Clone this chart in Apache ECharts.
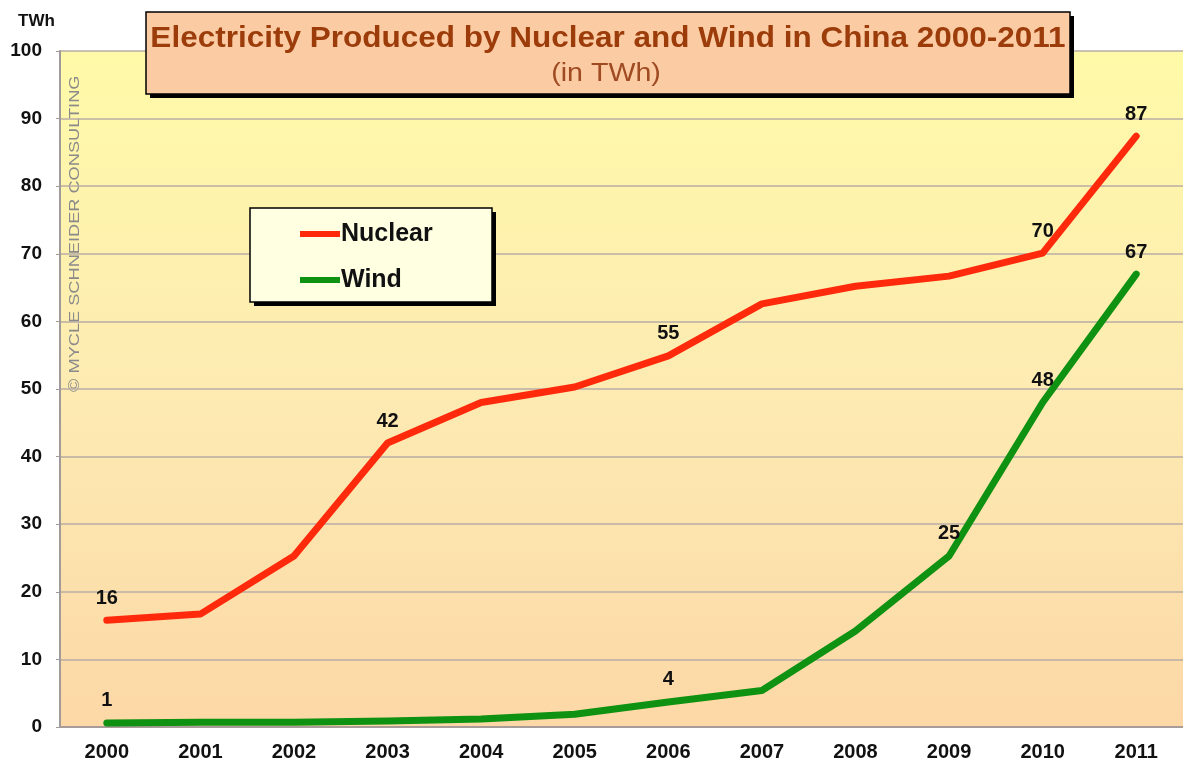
<!DOCTYPE html>
<html>
<head>
<meta charset="utf-8">
<script src="https://cdn.jsdelivr.net/npm/echarts@6/dist/echarts.min.js"></script>
<style>
  html, body { margin: 0; padding: 0; background: #fff; }
  #chart { width: 1183px; height: 767px; }
</style>
</head>
<body>
<div id="chart"></div>
<script>
  // data
  const years = ['2000', '2001', '2002', '2003', '2004', '2005', '2006', '2007', '2008', '2009', '2010', '2011'];
  const nuclear = [15.8, 16.7, 25.3, 42.0, 48.0, 50.3, 54.9, 62.6, 65.2, 66.7, 70.1, 87.4];
  const wind = [0.6, 0.7, 0.7, 0.9, 1.2, 1.9, 3.7, 5.4, 14.2, 25.3, 48.0, 67.0];
  // which points carry a value label
  const nuclearLabelled = [0, 3, 6, 10, 11];
  const windLabelled = [0, 6, 9, 10, 11];
  const yTicks = [0, 10, 20, 30, 40, 50, 60, 70, 80, 90, 100];

  const font = 'Liberation Sans, Arial, sans-serif';

  function withLabels(values, labelled) {
    return values.map(function (v, i) {
      return {
        value: v,
        label: { show: labelled.indexOf(i) >= 0 }
      };
    });
  }

  const chart = echarts.init(document.getElementById('chart'));

  const valueLabel = {
    show: false,
    position: 'top',
    distance: 12,
    color: '#111',
    fontFamily: font,
    fontWeight: 'bold',
    fontSize: 20,
    formatter: function (p) {
      return Math.round(p.value);
    }
  };

  const options = {
    animation: false,
    backgroundColor: '#fff',
    grid: {
      left: 60,
      right: 0,
      top: 51,
      bottom: 40,
      show: true,
      borderWidth: 0,
      backgroundColor: new echarts.graphic.LinearGradient(0, 0, 0, 1, [
        { offset: 0, color: '#fffaa8' },
        { offset: 0.5, color: '#fdebb2' },
        { offset: 1, color: '#fcd8a6' }
      ])
    },
    legend: {
      orient: 'vertical',
      left: 250,
      top: 208,
      padding: [12, 0, 0, 50],
      itemGap: 18,
      itemWidth: 40,
      itemHeight: 6,
      icon: 'rect',
      z: 8,
      textStyle: {
        color: '#111',
        fontFamily: font,
        fontWeight: 'bold',
        fontSize: 25,
        lineHeight: 28,
        padding: [0, 0, 0, -4]
      },
      data: ['Nuclear', 'Wind']
    },
    xAxis: {
      type: 'category',
      data: years,
      boundaryGap: true,
      axisLine: { lineStyle: { color: '#a89c98', width: 2 } },
      axisTick: { show: false },
      axisLabel: {
        margin: 15,
        color: '#111',
        fontFamily: font,
        fontWeight: 'bold',
        fontSize: 20
      }
    },
    yAxis: {
      type: 'value',
      min: yTicks[0],
      max: yTicks[yTicks.length - 1],
      interval: 10,
      axisLine: { show: true, lineStyle: { color: '#a09a9a', width: 2 } },
      axisTick: { show: true, length: 4, lineStyle: { color: '#a09a9a' } },
      splitLine: { lineStyle: { color: '#b8aca6', width: 1.5 } },
      axisLabel: {
        margin: 18,
        color: '#111',
        fontFamily: font,
        fontWeight: 'bold',
        fontSize: 19
      }
    },
    series: [
      {
        name: 'Nuclear',
        type: 'line',
        data: withLabels(nuclear, nuclearLabelled),
        symbol: 'circle',
        symbolSize: 0.1,
        showSymbol: true,
        lineStyle: { color: '#ff2a0c', width: 7, cap: 'round', join: 'round' },
        itemStyle: { color: '#ff2a0c' },
        label: valueLabel,
        z: 3
      },
      {
        name: 'Wind',
        type: 'line',
        data: withLabels(wind, windLabelled),
        symbol: 'circle',
        symbolSize: 0.1,
        showSymbol: true,
        lineStyle: { color: '#0f9212', width: 7, cap: 'round', join: 'round' },
        itemStyle: { color: '#0f9212' },
        label: valueLabel,
        z: 3
      }
    ],
    graphic: [
      {
        type: 'text',
        left: 18,
        top: 13,
        style: {
          text: 'TWh',
          fill: '#111',
          font: 'bold 17px ' + font
        }
      },
      {
        type: 'text',
        x: 82,
        y: 392,
        rotation: Math.PI / 2,
        scaleX: 1.3,
        style: {
          text: '\u00a9 MYCLE SCHNEIDER CONSULTING',
          fill: '#8a8a8a',
          font: '14px ' + font,
          textVerticalAlign: 'bottom'
        }
      },
      // legend box + shadow
      {
        type: 'rect',
        shape: { x: 254, y: 212, width: 242, height: 94 },
        style: { fill: '#000' },
        z: 5
      },
      {
        type: 'rect',
        shape: { x: 250, y: 208, width: 242, height: 94 },
        style: { fill: '#ffffe2', stroke: '#000', lineWidth: 1.5 },
        z: 6
      },
      // title box shadow + box
      {
        type: 'rect',
        shape: { x: 150, y: 16, width: 924, height: 82 },
        style: { fill: '#000' },
        z: 10
      },
      {
        type: 'rect',
        shape: { x: 146, y: 12, width: 924, height: 82 },
        style: { fill: '#fbcba3', stroke: '#000', lineWidth: 1.5 },
        z: 11
      },
      {
        type: 'text',
        x: 608,
        y: 39,
        scaleX: 1.05,
        style: {
          text: 'Electricity Produced by Nuclear and Wind in China 2000-2011',
          fill: '#9c3c0a',
          font: 'bold 30px ' + font,
          textAlign: 'center',
          textVerticalAlign: 'middle'
        },
        z: 12
      },
      {
        type: 'text',
        x: 606,
        y: 74,
        scaleX: 1.1,
        style: {
          text: '(in TWh)',
          fill: '#a04a22',
          font: '26px ' + font,
          textAlign: 'center',
          textVerticalAlign: 'middle'
        },
        z: 12
      }
    ]
  };

  chart.setOption(options);
</script>
</body>
</html>
